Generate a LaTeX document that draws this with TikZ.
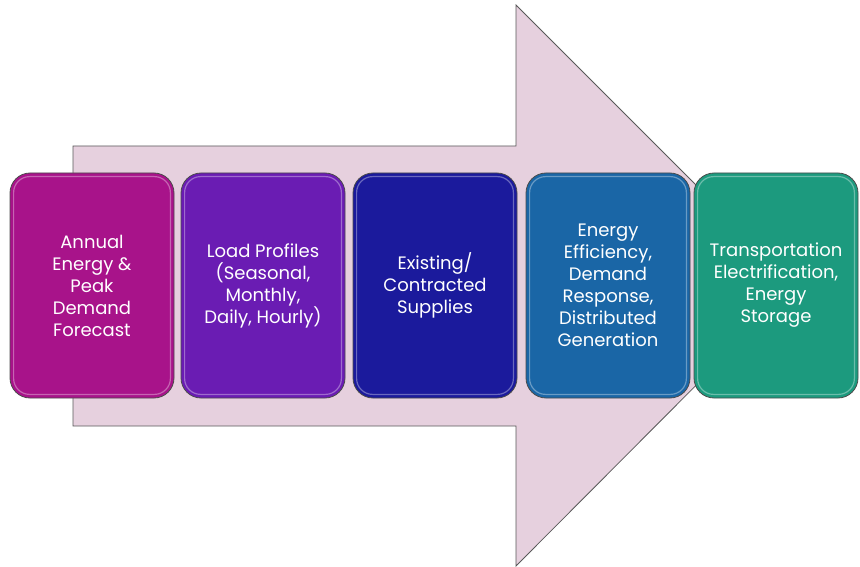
\documentclass[tikz,border=0pt]{standalone}
\usepackage{fontspec}
\setmainfont{Poppins}
\begin{document}
\begin{tikzpicture}[x=1pt,y=-1pt,
  stage/.style={draw=black!70, line width=0.8pt, rounded corners=20pt, minimum width=164pt, minimum height=225pt, text=white, align=center, font=\fontsize{18}{22}\selectfont, inner sep=0pt},
  gloss/.style={draw=white, opacity=0.35, line width=1.2pt, rounded corners=16pt}]
\useasboundingbox (0,0) rectangle (860,567);
\definecolor{arrowfill}{HTML}{E6D0DE}
\definecolor{cA}{HTML}{A8138A}
\definecolor{cB}{HTML}{6A1CB3}
\definecolor{cC}{HTML}{1B1A9C}
\definecolor{cD}{HTML}{1A66A6}
\definecolor{cE}{HTML}{1C9A7E}
\draw[fill=arrowfill, draw=black!65, line width=0.8pt] (73,146) -- (516,146) -- (516,5) -- (796,285) -- (516,566) -- (516,426) -- (73,426) -- cycle;
\node[stage, fill=cA] (s1) at (92,285.5) {Annual\\Energy \&\\Peak\\Demand\\Forecast};
\node[stage, fill=cB] (s2) at (263,285.5) {Load Profiles\\(Seasonal,\\Monthly,\\Daily, Hourly)};
\node[stage, fill=cC] (s3) at (435,285.5) {Existing/\\Contracted\\Supplies};
\node[stage, fill=cD] (s4) at (608,285.5) {Energy\\Efficiency,\\Demand\\Response,\\Distributed\\Generation};
\node[stage, fill=cE] (s5) at (776,285.5) {Transportation\\Electrification,\\Energy\\Storage};
\foreach \n in {s1,s2,s3,s4,s5}{
  \draw[gloss] ([shift={(4,4)}]\n.north west) rectangle ([shift={(-4,-4)}]\n.south east);
}
\end{tikzpicture}
\end{document}
